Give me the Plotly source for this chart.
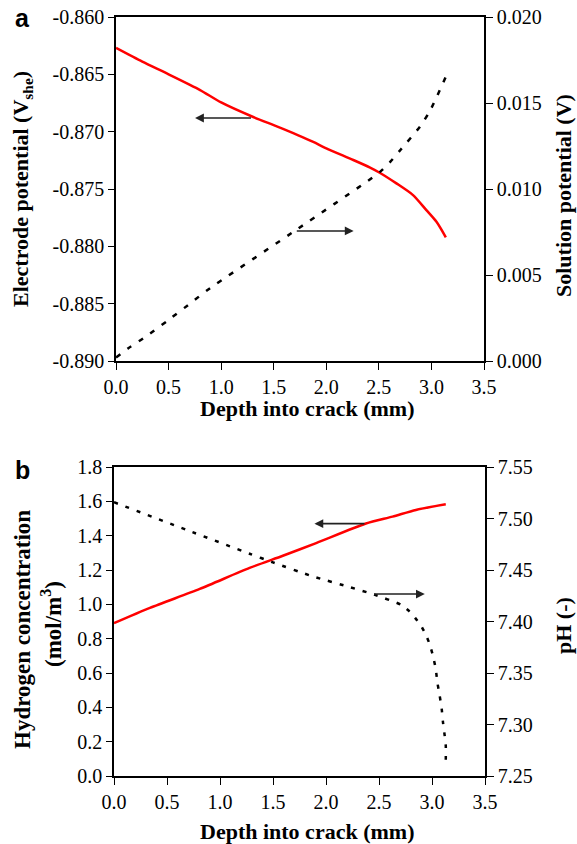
import plotly.graph_objects as go

# ---- panel (a): potentials along the crack ----
depth_E = [0.0, 0.25, 0.5, 0.8, 1.0, 1.305, 1.5, 1.686, 1.876, 2.0, 2.257,
           2.412, 2.508, 2.667, 2.825, 2.952, 3.048, 3.137]
electrode_potential = [-0.8627, -0.8639, -0.8650, -0.86637, -0.86745, -0.86872,
                       -0.86943, -0.87012, -0.8709, -0.87145, -0.87247,
                       -0.87311, -0.87358, -0.87451, -0.87553, -0.87684,
                       -0.87786, -0.87921]

depth_phi = [0.0, 0.117, 0.26, 0.498, 0.736, 0.864, 1.689, 2.514, 2.61, 2.705,
             2.895, 2.99, 3.149]
solution_potential = [0.0002, 0.00074, 0.00132, 0.00238, 0.00349, 0.0041,
                      0.00752, 0.01101, 0.01159, 0.01227, 0.01366, 0.01459,
                      0.01669]

# ---- panel (b): hydrogen concentration and pH ----
depth_H = [0.0, 0.339, 0.809, 1.279, 1.593, 1.907, 2.377, 2.628, 2.848, 3.13]
hydrogen_conc = [0.890, 0.979, 1.090, 1.212, 1.283, 1.357, 1.471, 1.511, 1.550,
                 1.583]

depth_pH = [0.0, 0.74, 1.279, 1.499, 1.875, 2.22, 2.455, 2.706, 2.785, 2.841,
            2.894, 2.941, 2.979, 3.01, 3.036, 3.051, 3.073, 3.092, 3.104, 3.12,
            3.13, 3.13]
pH = [7.5158, 7.4868, 7.4658, 7.4574, 7.4438, 7.4335, 7.4261, 7.4164, 7.410,
      7.4035, 7.3964, 7.3874, 7.3777, 7.3664, 7.3535, 7.3406, 7.3277, 7.3148,
      7.3019, 7.289, 7.2793, 7.2657]

# tick labels
x_ticks = [0.0, 0.5, 1.0, 1.5, 2.0, 2.5, 3.0, 3.5]
x_labels = ["0.0", "0.5", "1.0", "1.5", "2.0", "2.5", "3.0", "3.5"]
E_ticks = [-0.890, -0.885, -0.880, -0.875, -0.870, -0.865, -0.860]
E_labels = ["-0.890", "-0.885", "-0.880", "-0.875", "-0.870", "-0.865", "-0.860"]
phi_ticks = [0.0, 0.005, 0.010, 0.015, 0.020]
phi_labels = ["0.000", "0.005", "0.010", "0.015", "0.020"]
H_ticks = [0.0, 0.2, 0.4, 0.6, 0.8, 1.0, 1.2, 1.4, 1.6, 1.8]
H_labels = ["0.0", "0.2", "0.4", "0.6", "0.8", "1.0", "1.2", "1.4", "1.6", "1.8"]
pH_ticks = [7.25, 7.30, 7.35, 7.40, 7.45, 7.50, 7.55]
pH_labels = ["7.25", "7.30", "7.35", "7.40", "7.45", "7.50", "7.55"]

# arrows pointing from each curve to its axis: (x_tail, x_head, y, xaxis, yaxis)
arrows = [
    (1.298, 0.752, -0.86881, "x", "y"),
    (1.705, 2.260, -0.87866, "x", "y"),
    (2.377, 1.891, 1.470, "x2", "y4"),
    (2.439, 2.932, 1.060, "x2", "y4"),
]

W, H = 577, 844
SERIF = "Liberation Serif, Times New Roman, serif"
TICKFONT = dict(family=SERIF, size=20, color="black")

fig = go.Figure()
fig.add_trace(go.Scatter(x=depth_E, y=electrode_potential, mode="lines",
                         line=dict(color="#ff0000", width=2.5, shape="spline",
                                   smoothing=0.7),
                         xaxis="x", yaxis="y"))
fig.add_trace(go.Scatter(x=depth_phi, y=solution_potential, mode="lines",
                         line=dict(color="black", width=2.5, dash="5px,9px",
                                   shape="spline", smoothing=0.7),
                         xaxis="x", yaxis="y2"))
fig.add_trace(go.Scatter(x=depth_H, y=hydrogen_conc, mode="lines",
                         line=dict(color="#ff0000", width=2.5, shape="spline",
                                   smoothing=0.7),
                         xaxis="x2", yaxis="y4"))
fig.add_trace(go.Scatter(x=depth_pH, y=pH, mode="lines",
                         line=dict(color="black", width=2.5, dash="4px,8px",
                                   shape="spline", smoothing=0.5),
                         xaxis="x2", yaxis="y5"))

dom_xa = [116 / W, 484 / W]
dom_xb = [114 / W, 485 / W]
dom_ya = [1 - 361 / H, 1 - 17 / H]
dom_yb = [1 - 776 / H, 1 - 467 / H]

axis_common = dict(showgrid=False, zeroline=False, showline=True,
                   linecolor="black", linewidth=1.5, tickcolor="black",
                   tickfont=TICKFONT, tickmode="array", automargin=False)


def xaxis(domain, anchor):
    return dict(domain=domain, anchor=anchor, range=[0, 3.5], tickvals=x_ticks,
                ticktext=x_labels, ticks="outside", ticklen=7, tickwidth=1.2,
                mirror=True, **axis_common)


def yleft(domain, anchor, rng, vals, text):
    return dict(domain=domain, anchor=anchor, range=rng, tickvals=vals,
                ticktext=text, ticks="outside", ticklen=6, tickwidth=1.2,
                **axis_common)


def yright(anchor, over, rng, vals, text):
    return dict(anchor=anchor, overlaying=over, side="right", range=rng,
                tickvals=vals, ticktext=text, ticks="outside", ticklen=7,
                tickwidth=1.2, **axis_common)


def yright_inner(anchor, over, rng, vals):
    return dict(anchor=anchor, overlaying=over, side="right", range=rng,
                tickmode="array", tickvals=vals, ticks="inside", ticklen=7,
                tickwidth=1.2, tickcolor="black", showticklabels=False,
                showline=False, showgrid=False, zeroline=False,
                automargin=False)


fig.update_layout(
    width=W, height=H,
    margin=dict(l=0, r=0, t=0, b=0, autoexpand=False),
    paper_bgcolor="white", plot_bgcolor="white",
    font=dict(family=SERIF, size=20, color="black"),
    showlegend=False,
    xaxis=xaxis(dom_xa, "y"),
    yaxis=yleft(dom_ya, "x", [-0.890, -0.860], E_ticks, E_labels),
    yaxis2=yright("x", "y", [0, 0.020], phi_ticks, phi_labels),
    yaxis3=yright_inner("x", "y", [0, 0.020], phi_ticks),
    xaxis2=xaxis(dom_xb, "y4"),
    yaxis4=yleft(dom_yb, "x2", [0, 1.8], H_ticks, H_labels),
    yaxis5=yright("x2", "y4", [7.25, 7.55], pH_ticks, pH_labels),
    yaxis6=yright_inner("x2", "y4", [7.25, 7.55], pH_ticks),
)

for x0, x1, yv, xr, yr in arrows:
    fig.add_annotation(x=x1, y=yv, ax=x0, ay=yv, xref=xr, yref=yr,
                       axref=xr, ayref=yr, text="", showarrow=True,
                       arrowhead=2, arrowsize=1.1, arrowwidth=1.6,
                       arrowcolor="#222222")

TITLE = dict(family=SERIF, size=22, color="black")


def label(text, x, y, angle=0, font=TITLE):
    fig.add_annotation(text=text, x=x / W, y=1 - y / H, xref="paper",
                       yref="paper", showarrow=False, textangle=angle,
                       font=font, xanchor="center", yanchor="middle")


# axis titles
label("<b>Depth into crack (mm)</b>", 307, 409)
label("<b>Depth into crack (mm)</b>", 307, 831)
label("<b>Electrode potential (V<sub>she</sub>)</b>", 22, 189, -90)
label("<b>Solution potential (V)</b>", 563, 196, -90)
label("<b>Hydrogen concentration</b>", 22, 630,  -90,
      dict(family=SERIF, size=23, color="black"))
label("<b>(mol/m<sup>3</sup>)</b>", 51, 624, -90,
      dict(family=SERIF, size=23, color="black"))
label("<b>pH (-)</b>", 563, 626, -90)

# panel letters
LETTER = dict(family="Liberation Sans, Arial, sans-serif", size=25,
              color="black")
label("<b>a</b>", 23, 18, font=LETTER)
label("<b>b</b>", 22, 470, font=LETTER)

fig.write_html("out.html")
